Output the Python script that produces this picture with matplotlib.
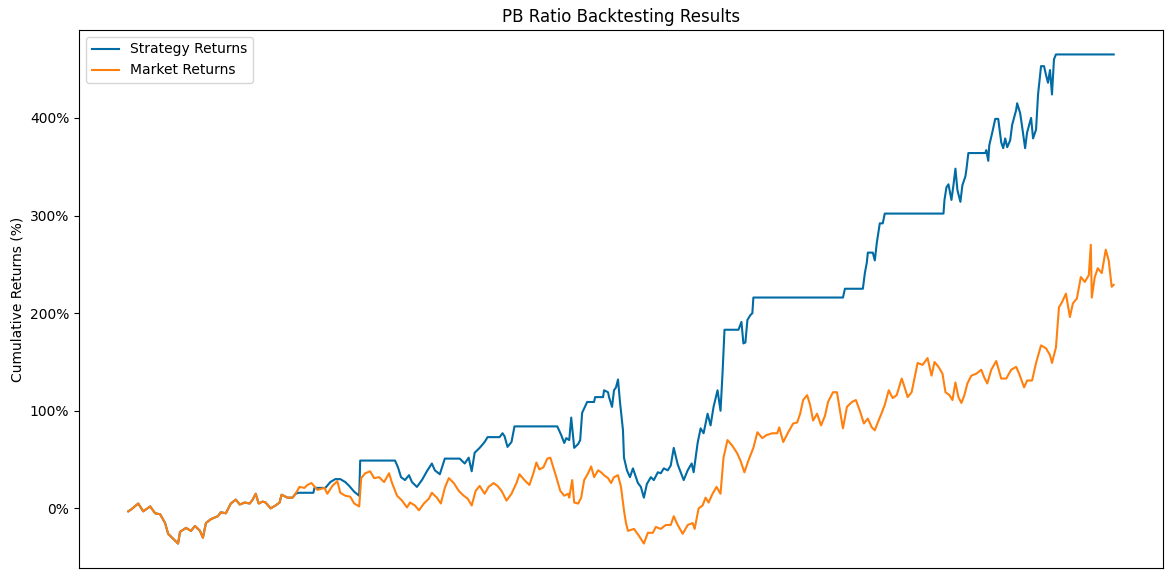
import matplotlib
matplotlib.use("Agg")
import matplotlib.pyplot as plt
from matplotlib.ticker import FuncFormatter

# trading-day index and cumulative returns in %
mkt_day = [0, 3, 10, 15, 22, 27, 32, 37, 40, 45, 50, 52, 58, 63, 67, 72, 75, 78, 83, 90,
           93, 98, 103, 108, 112, 117, 122, 125, 128, 131, 135, 138, 143, 148, 152, 154, 160, 165, 168, 172,
           177, 180, 184, 190, 197, 200, 205, 210, 213, 218, 223, 227, 232, 234, 238, 243, 247, 252, 257, 262,
           265, 270, 275, 280, 283, 288, 292, 297, 302, 305, 310, 314, 318, 322, 327, 332, 337, 341, 345, 349,
           353, 358, 362, 367, 371, 375, 380, 385, 390, 393, 398, 403, 407, 410, 413, 417, 421, 424, 427, 430,
           434, 438, 442, 443, 446, 448, 452, 455, 458, 462, 465, 468, 472, 475, 478, 482, 485, 488, 492, 495,
           498, 500, 502, 508, 513, 518, 522, 527, 530, 535, 540, 545, 548, 552, 557, 562, 567, 569, 573, 577,
           580, 583, 587, 591, 595, 598, 602, 607, 612, 615, 619, 623, 628, 632, 637, 641, 647, 652, 654, 658,
           663, 668, 672, 675, 678, 682, 685, 688, 692, 696, 700, 703, 708, 712, 715, 718, 722, 727, 731, 735,
           739, 743, 747, 750, 753, 757, 760, 764, 768, 772, 777, 780, 783, 787, 790, 793, 798, 803, 807, 810,
           814, 818, 821, 825, 828, 831, 834, 837, 840, 843, 847, 852, 857, 860, 863, 867, 872, 877, 882, 887,
           892, 895, 900, 903, 908, 912, 917, 922, 926, 928, 932, 935, 938, 942, 946, 949, 953, 957, 961, 965,
           967, 968, 971, 974, 978, 982, 985, 987, 988, 990]
mkt_ret = [-3, -1, 5, -3, 2, -5, -6, -15, -26, -31, -36, -24, -20, -23, -18, -23, -30, -15, -11, -8,
           -4, -5, 5, 9, 4, 6, 5, 9, 15, 5, 7, 6, 0, 3, 6, 14, 11, 11, 15, 22,
           21, 24, 26, 19, 21, 15, 23, 28, 16, 13, 12, 5, 2, 31, 36, 38, 31, 32, 27, 36,
           26, 13, 8, 1, 6, 3, -2, 5, 10, 16, 11, 5, 21, 31, 26, 18, 13, 10, 3, 18,
           23, 15, 22, 26, 23, 18, 8, 15, 26, 35, 29, 24, 36, 47, 40, 42, 51, 52, 42, 32,
           18, 13, 15, 11, 29, 6, 5, 11, 29, 36, 43, 32, 39, 37, 34, 31, 26, 32, 34, 22,
           -2, -15, -23, -21, -28, -36, -25, -25, -19, -21, -17, -17, -8, -17, -26, -17, -15, -21, 0, 3,
           11, 6, 15, 22, 15, 52, 70, 64, 56, 49, 37, 49, 62, 78, 72, 75, 77, 77, 83, 68,
           78, 87, 88, 97, 111, 116, 106, 90, 97, 85, 95, 109, 119, 119, 100, 82, 104, 109, 111, 100,
           87, 92, 83, 80, 88, 98, 106, 121, 113, 116, 133, 124, 114, 119, 134, 149, 147, 154, 136, 150,
           145, 138, 119, 116, 111, 129, 114, 108, 116, 128, 136, 138, 142, 134, 128, 142, 151, 133, 133, 142,
           145, 138, 124, 131, 131, 149, 167, 164, 157, 149, 165, 206, 211, 220, 196, 210, 215, 237, 232, 239,
           270, 216, 237, 246, 241, 265, 254, 236, 227, 229]

# strategy tracks the market until day 168, then diverges
shared_until = 168
strat_own_day = [171, 186, 187, 198, 203, 208, 213, 218, 222, 227, 232, 233, 268, 271, 274, 278, 282, 285, 290, 295,
                 300, 305, 308, 313, 318, 333, 338, 342, 345, 348, 353, 358, 361, 373, 376, 378, 381, 385, 388, 431,
                 435, 438, 440, 443, 445, 448, 452, 454, 456, 461, 468, 469, 477, 478, 482, 483, 486, 488, 490, 492,
                 494, 497, 498, 501, 504, 507, 510, 512, 515, 518, 521, 525, 528, 532, 535, 538, 542, 545, 548, 552,
                 558, 562, 566, 568, 572, 575, 578, 582, 585, 588, 592, 595, 597, 599, 613, 616, 618, 620, 622, 625,
                 627, 628, 718, 720, 738, 740, 742, 743, 748, 750, 752, 755, 758, 760, 819, 820, 822, 824, 827, 829,
                 831, 833, 836, 838, 841, 842, 844, 861, 862, 864, 865, 868, 871, 874, 877, 879, 881, 883, 886, 888,
                 892, 893, 896, 898, 901, 903, 907, 909, 912, 914, 917, 920, 922, 924, 926, 928, 930, 932, 990]
strat_own_ret = [16, 16, 21, 21, 27, 30, 30, 27, 23, 17, 13, 49, 49, 42, 32, 29, 34, 27, 22, 29,
                 38, 46, 39, 35, 51, 51, 46, 52, 38, 57, 62, 68, 73, 73, 77, 74, 63, 68, 84, 84,
                 75, 67, 72, 70, 93, 62, 66, 70, 98, 109, 109, 114, 114, 121, 119, 114, 104, 121, 124, 132,
                 109, 80, 52, 39, 32, 41, 32, 26, 22, 11, 25, 32, 29, 37, 36, 41, 39, 44, 62, 45,
                 29, 39, 46, 37, 67, 82, 77, 97, 85, 104, 121, 100, 138, 183, 183, 191, 169, 170, 193, 198,
                 200, 216, 216, 225, 225, 241, 252, 262, 262, 254, 272, 292, 292, 302, 302, 316, 329, 332, 316, 331,
                 348, 326, 314, 331, 340, 347, 364, 364, 367, 356, 372, 385, 399, 399, 375, 369, 379, 370, 377, 393,
                 408, 415, 405, 391, 369, 385, 400, 379, 388, 424, 453, 453, 444, 436, 449, 424, 460, 465, 465]

k = mkt_day.index(shared_until) + 1
strat_day = mkt_day[:k] + strat_own_day
strat_ret = mkt_ret[:k] + strat_own_ret

fig = plt.figure(figsize=(11.74, 5.79), dpi=100)
ax = fig.add_axes([0.0673, 0.019, 0.9233, 0.9292])

ax.plot(strat_day, strat_ret, color="#006BA4", linewidth=1.5, label="Strategy Returns")
ax.plot(mkt_day, mkt_ret, color="#FF800E", linewidth=1.5, label="Market Returns")

ax.set_title("PB Ratio Backtesting Results", fontsize=12)
ax.set_ylabel("Cumulative Returns (%)", fontsize=10)
ax.set_yticks([0, 100, 200, 300, 400])
ax.yaxis.set_major_formatter(FuncFormatter(lambda v, _: f"{v:.0f}%"))
ax.set_xticks([])
ax.legend(loc="upper left")

plt.savefig("out.png", dpi=100)
plt.close()
